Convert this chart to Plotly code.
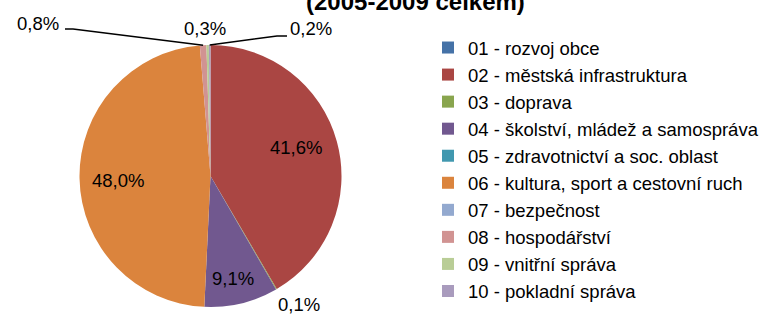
import math
import plotly.graph_objects as go

# Podíl kapitol na výdajích (2005-2009 celkem), v procentech
categories = [
    "01 - rozvoj obce",
    "02 - městská infrastruktura",
    "03 - doprava",
    "04 - školství, mládež a samospráva",
    "05 - zdravotnictví a soc. oblast",
    "06 - kultura, sport a cestovní ruch",
    "07 - bezpečnost",
    "08 - hospodářství",
    "09 - vnitřní správa",
    "10 - pokladní správa",
]
shares = [0.0, 41.6, 0.1, 9.1, 0.0, 48.0, 0.0, 0.8, 0.3, 0.2]
colors = ["#4572A7", "#AA4643", "#89A54E", "#71588F", "#4198AF",
          "#DB843D", "#93A9CF", "#D19392", "#B9CD96", "#A99BBD"]

W, H = 771, 325
FONT = "Liberation Sans, Arial, sans-serif"
FSIZE = 18.5

# pie geometry in pixels
CX, CY, R = 210.5, 176.0, 131.0


def px(x):
    return x / W


def py(y):
    return 1 - y / H


def fmt(v):
    return f"{v:.1f}".replace(".", ",") + "%"


fig = go.Figure(go.Pie(
    labels=categories,
    values=shares,
    text=[fmt(v) for v in shares],
    textinfo="none",
    marker=dict(colors=colors, line=dict(width=0)),
    sort=False,
    direction="clockwise",
    rotation=0,
    domain=dict(x=[px(CX - R), px(CX + R)], y=[py(CY + R), py(CY - R)]),
    hoverinfo="label+text",
    showlegend=True,
))

total = sum(shares)


def mid_angle(i):
    start = sum(shares[:i]) / total
    return (start + shares[i] / total / 2) * 360.0


def polar(angle_deg, frac):
    a = math.radians(angle_deg)
    return CX + frac * R * math.sin(a), CY - frac * R * math.cos(a)


annotations = []
shapes = []


def label(x, y, text):
    annotations.append(dict(
        x=px(x), y=py(y), xref="paper", yref="paper",
        text=text, showarrow=False,
        font=dict(family=FONT, size=FSIZE, color="#000000"),
        xanchor="center", yanchor="middle",
    ))


# data labels placed radially: (radius fraction, angular shift in degrees)
radial = {1: (0.69, -3.0), 3: (0.80, 1.5), 5: (0.71, -1.8), 2: (1.19, -4.2)}
for i, (frac, shift) in radial.items():
    x, y = polar(mid_angle(i) + shift, frac)
    label(x, y, fmt(shares[i]))

# small slices at the top: labels lifted above the pie, with leader lines
small = {
    7: dict(text_xy=(38, 23), path=[(65, 29), (73, 29)]),
    8: dict(text_xy=(205, 29), path=None),
    9: dict(text_xy=(311, 29), path=[(287, 36), (277, 36)]),
}
for i, cfg in small.items():
    tx, ty = cfg["text_xy"]
    label(tx, ty, fmt(shares[i]))
    if cfg["path"]:
        ex, ey = polar(mid_angle(i), 1.0)
        pts = cfg["path"] + [(ex, ey)]
        d = "M " + " L ".join(f"{px(x)} {py(y)}" for x, y in pts)
        shapes.append(dict(type="path", path=d, xref="paper", yref="paper",
                           line=dict(color="#000000", width=1.5)))

# title, its upper part runs past the top edge
annotations.append(dict(
    x=px(415), y=py(17), xref="paper", yref="paper",
    text="<b>(2005-2009 celkem)</b>", showarrow=False,
    font=dict(family=FONT, size=24, color="#000000"),
    xanchor="center", yanchor="bottom",
))

fig.update_layout(
    width=W, height=H,
    margin=dict(l=0, r=0, t=0, b=0),
    paper_bgcolor="#FFFFFF",
    plot_bgcolor="#FFFFFF",
    font=dict(family=FONT, size=FSIZE, color="#000000"),
    legend=dict(
        x=px(428), xanchor="left",
        y=py(29), yanchor="top",
        font=dict(family=FONT, size=FSIZE, color="#000000"),
        bgcolor="rgba(0,0,0,0)",
        borderwidth=0,
        tracegroupgap=0,
    ),
    annotations=annotations,
    shapes=shapes,
)

fig.write_html("out.html")
